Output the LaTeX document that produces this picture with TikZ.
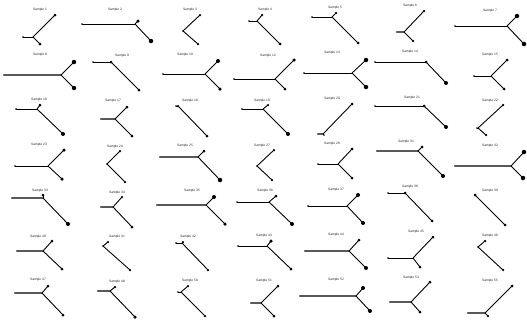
\documentclass[tikz,border=0pt]{standalone}
\usepackage{fontspec}
\setmainfont{Liberation Sans}
\begin{document}
\begin{tikzpicture}[x=1pt,y=-1pt,
  lab/.style={inner sep=0pt,font=\fontsize{3.3}{3.3}\selectfont,text=black!85},
  dotn/.style={circle,fill=black,inner sep=0pt},
  br/.style={line width=0.9pt,black},
  blk/.style={line width=0.9pt,black},
  gry/.style={line width=1.5pt,black!65}]
\useasboundingbox (0,0) rectangle (527,322);
\newcommand\tre[9]{%
  \node[lab] (L#1) at (#2) {Sample #1};
  \node[dotn,minimum size=1.8pt] (R#1) at (#3) {};
  \coordinate (J#1) at (#4);
  \node[dotn,minimum size=#7pt] (U#1) at (#5) {};
  \node[dotn,minimum size=#8pt] (D#1) at (#6) {};
  \draw[#9] (R#1.center) -- (J#1);
  \draw[br] (J#1) -- (U#1.center);
  \draw[br] (J#1) -- (D#1.center);
}
% row 1
\tre{1}{40,10}{23,37}{33,37}{55,15}{40,44}{3}{3}{blk}
\tre{2}{115,10}{82,24}{135,24}{138,21}{151,41}{3.5}{4.5}{blk}
\tre{3}{190,10}{183,31}{183,31}{200,15}{198,44}{2.5}{2.5}{blk}
\tre{4}{265,10}{249,21}{257,21}{262,15}{280,44}{2.5}{3}{blk}
\tre{5}{335,8}{312,17}{332,17}{336,13}{358,43}{2.5}{3}{blk}
\tre{6}{410,6}{397,32}{404,32}{424,11}{413,41}{2.5}{2.5}{gry}
\tre{7}{490,11}{455,26}{507,26}{517,16}{524,44}{4.5}{4.5}{blk}
% row 2
\tre{8}{40,55}{4,75}{61,75}{74,62}{74,88}{4.5}{4.5}{gry}
\tre{9}{122,56}{93,62}{111,62}{111,62}{139,90}{3}{3}{blk}
\tre{10}{185,55}{163,74}{205,74}{218,61}{220,89}{4}{3.5}{blk}
\tre{12}{268,56}{234,79}{275,79}{294,60}{285,89}{3.5}{3}{blk}
\tre{13}{332,53}{304,73}{352,73}{366,60}{366,87}{4.5}{4.5}{blk}
\tre{14}{410,52}{375,62}{426,62}{426,62}{446,83}{3}{4}{blk}
\tre{15}{490,55}{474,76}{491,76}{507,60}{504,89}{3}{3}{blk}
% row 3
\tre{16}{39,100}{16,109}{37,109}{40,105}{63,134}{3}{4}{blk}
\tre{17}{113,101}{101,119}{115,119}{127,107}{132,136}{3}{3}{gry}
\tre{18}{190,101}{176,106}{178,106}{178,106}{207,136}{2.5}{3}{blk}
\tre{19}{262,101}{242,109}{263,109}{268,105}{288,134}{2.5}{4}{blk}
\tre{20}{332,99}{318,134}{323,134}{352,104}{324,135}{3}{1.5}{gry}
\tre{21}{412,98}{375,106}{424,106}{424,106}{446,127}{3}{4}{blk}
\tre{22}{490,101}{477,128}{478,128}{503,105}{486,135}{2.5}{2.5}{blk}
% row 4
\tre{23}{39,145}{15,166}{48,166}{64,150}{62,179}{3.5}{3.5}{blk}
\tre{24}{115,147}{107,164}{107,164}{120,151}{125,182}{2.5}{2.5}{blk}
\tre{25}{185,146}{160,157}{198,157}{204,151}{220,180}{3}{4.5}{gry}
\tre{27}{262,146}{257,166}{257,166}{274,150}{272,180}{2.5}{2.5}{blk}
\tre{28}{332,144}{318,164}{338,164}{352,149}{352,178}{3}{3}{blk}
\tre{31}{406,142}{377,151}{418,151}{422,147}{443,176}{3}{4}{gry}
\tre{32}{490,146}{455,166}{511,166}{524,152}{523,178}{4.5}{4.5}{gry}
% row 5
\tre{33}{40,191}{12,198}{43,198}{43,195}{68,224}{3}{4}{gry}
\tre{34}{117,193}{101,207}{113,207}{122,197}{132,227}{2.5}{3}{gry}
\tre{35}{192,191}{157,205}{206,205}{214,197}{225,224}{4}{3.5}{gry}
\tre{36}{265,191}{237,202}{269,202}{276,196}{292,224}{3}{4}{blk}
\tre{37}{336,190}{308,206}{347,206}{358,195}{363,223}{4}{4}{blk}
\tre{38}{410,187}{388,193}{405,193}{405,193}{432,221}{3}{3}{blk}
\tre{39}{490,191}{475,195}{475,195}{475,195}{505,225}{3}{3}{blk}
% row 6
\tre{40}{38,237}{17,251}{43,251}{52,241}{62,269}{3}{3}{gry}
\tre{41}{117,237}{103,246}{103,246}{108,242}{130,270}{2.5}{2.5}{blk}
\tre{42}{188,237}{176,243}{182,243}{183,242}{208,270}{2.5}{2.5}{blk}
\tre{43}{264,236}{238,246}{267,246}{271,241}{291,269}{3.5}{3}{blk}
\tre{44}{336,235}{305,251}{349,251}{359,240}{366,268}{3}{4}{gry}
\tre{45}{416,232}{388,258}{413,258}{433,237}{420,267}{3}{3}{blk}
\tre{46}{490,236}{478,247}{478,247}{485,241}{503,270}{2.5}{2.5}{blk}
% row 7
\tre{47}{38,280}{15,293}{42,293}{48,286}{63,315}{3}{3}{gry}
\tre{48}{117,282}{98,291}{110,291}{115,287}{135,317}{2.5}{3.5}{gry}
\tre{50}{190,281}{178,292}{181,292}{188,286}{205,316}{2.5}{2.5}{blk}
\tre{51}{264,281}{251,303}{261,303}{278,286}{274,316}{3}{3}{gry}
\tre{52}{336,280}{300,296}{356,296}{363,288}{370,311}{4}{4}{gry}
\tre{53}{411,278}{390,302}{411,302}{430,282}{420,312}{3}{3}{gry}
\tre{55}{490,281}{468,313}{485,313}{512,286}{488,316}{3}{2.5}{gry}
\end{tikzpicture}
\end{document}
